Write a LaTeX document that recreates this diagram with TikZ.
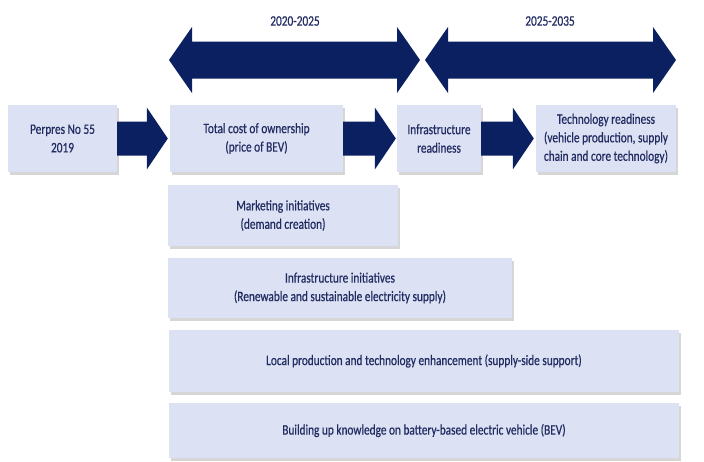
\documentclass[tikz,border=0pt]{standalone}
\usepackage{fontspec}
\setmainfont{Carlito}[FakeStretch=0.78, FakeBold=0.6]
\usetikzlibrary{calc,shadows}

\definecolor{navy}{HTML}{0B2060}
\definecolor{boxfill}{HTML}{DCE2F3}
\definecolor{ink}{HTML}{222C62}

% straight block arrow from #1 to #2 (same height), head length 21, shaft half 17, head half 31
\newcommand\blockarrow[2]{%
  \fill[navy] let \p1=(#1), \p2=(#2) in
    (\x1,\y1+17pt) -- (\x2-21pt,\y1+17pt) -- (\x2-21pt,\y1+31pt) -- (\x2,\y1)
    -- (\x2-21pt,\y1-31pt) -- (\x2-21pt,\y1-17pt) -- (\x1,\y1-17pt) -- cycle;}

% double-headed period arrow between #1 and #2
\newcommand\periodarrow[2]{%
  \fill[navy] let \p1=(#1), \p2=(#2) in
    (\x1,\y1) -- (\x1+23pt,\y1+33pt) -- (\x1+23pt,\y1+18.5pt)
    -- (\x2-23pt,\y1+18.5pt) -- (\x2-23pt,\y1+33pt) -- (\x2,\y1)
    -- (\x2-23pt,\y1-33pt) -- (\x2-23pt,\y1-18.5pt)
    -- (\x1+23pt,\y1-18.5pt) -- (\x1+23pt,\y1-33pt) -- cycle;}

\tikzset{
  stagebox/.style={rectangle, fill=boxfill, text=ink, align=center,
    inner sep=0pt, font=\fontsize{14.5}{18.5}\selectfont,
    drop shadow={shadow xshift=1.5pt, shadow yshift=-2.5pt, fill=black, opacity=0.16}},
  period/.style={text=ink, font=\fontsize{14.5}{18.5}\selectfont}
}

\begin{document}
\begin{tikzpicture}[x=1pt, y=-1pt]
  \useasboundingbox (0,0) rectangle (704,461);
  \fill[white] (0,0) rectangle (704,461);

  % time periods
  \coordinate (pa-l) at (169,60);
  \coordinate (pa-r) at (420,60);
  \coordinate (pb-l) at (425,60);
  \coordinate (pb-r) at (676,60);
  \periodarrow{pa-l}{pa-r}
  \periodarrow{pb-l}{pb-r}
  \node[period] (ya) at (295,21) {2020-2025};
  \node[period] (yb) at (550,21) {2025-2035};

  % stage boxes
  \node[stagebox, minimum width=109, minimum height=67] (perpres) at (62.5,138.5)
    {Perpres No 55\\2019};
  \node[stagebox, minimum width=173, minimum height=67] (tco) at (256.5,138.5)
    {Total cost of ownership\\(price of BEV)};
  \node[stagebox, minimum width=84, minimum height=67] (infra) at (439,138.5)
    {Infrastructure\\readiness};
  \node[stagebox, minimum width=140, minimum height=67] (tech) at (606,138.5)
    {Technology readiness\\(vehicle production, supply\\chain and core technology)};

  % arrows between stages
  \blockarrow{perpres.east}{$(tco.west)+(-2,0)$}
  \blockarrow{tco.east}{$(infra.west)+(-1,0)$}
  \blockarrow{infra.east}{$(tech.west)+(-2,0)$}

  % supporting initiatives
  \node[stagebox, minimum width=230, minimum height=61] (mkt) at (283,215.5)
    {Marketing initiatives\\(demand creation)};
  \node[stagebox, minimum width=344, minimum height=60] (infinit) at (340,288)
    {Infrastructure initiatives\\(Renewable and sustainable electricity supply)};
  \node[stagebox, minimum width=510, minimum height=62] (local) at (424,361)
    {Local production and technology enhancement (supply-side support)};
  \node[stagebox, minimum width=510, minimum height=55] (know) at (424,430.5)
    {Building up knowledge on battery-based electric vehicle (BEV)};
\end{tikzpicture}
\end{document}
